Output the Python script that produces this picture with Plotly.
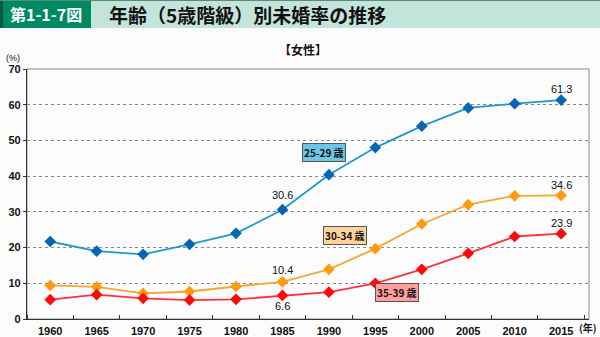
import plotly.graph_objects as go

years = [1960, 1965, 1970, 1975, 1980, 1985, 1990, 1995, 2000, 2005, 2010, 2015]
s25_29 = [21.7, 19.0, 18.1, 20.9, 24.0, 30.6, 40.4, 48.0, 54.0, 59.1, 60.3, 61.3]
s30_34 = [9.4, 9.0, 7.2, 7.7, 9.1, 10.4, 13.9, 19.7, 26.6, 32.0, 34.5, 34.6]
s35_39 = [5.4, 6.8, 5.8, 5.3, 5.5, 6.6, 7.5, 10.0, 13.9, 18.4, 23.1, 23.9]
series_names = ["25-29 歳", "30-34 歳", "35-39 歳"]
y_ticks = [0, 10, 20, 30, 40, 50, 60, 70]

FONT = "Liberation Sans, Noto Sans CJK JP, sans-serif"
JP = "Noto Sans CJK JP, sans-serif"

fig = go.Figure()
styles = [
    (s25_29, "#1b9ad2", "#0866b0"),
    (s30_34, "#f7a52e", "#ff9a10"),
    (s35_39, "#ff3040", "#ff0a0a"),
]
for (vals, lc, mc), name in zip(styles, series_names):
    fig.add_trace(go.Scatter(
        x=years, y=vals, mode="lines+markers", name=name,
        line=dict(color=lc, width=1.8),
        marker=dict(symbol="diamond", size=9, color=mc),
        showlegend=False, cliponaxis=False,
    ))

W, H = 600, 337
L, R, T, B = 27, 11, 69, 18
pw, ph = W - L - R, H - T - B

def px(x):
    return (x - L) / pw

def py(y):
    return (H - B - y) / ph

shapes = []
# title bar
shapes.append(dict(type="rect", xref="paper", yref="paper", x0=px(0), x1=px(600), y0=py(28), y1=py(0),
                   fillcolor="#c2e4da", line=dict(width=0), layer="below"))
shapes.append(dict(type="rect", xref="paper", yref="paper", x0=px(0), x1=px(91), y0=py(28), y1=py(0),
                   fillcolor="#008a62", line=dict(width=0), layer="below"))
shapes.append(dict(type="rect", xref="paper", yref="paper", x0=px(0), x1=px(3), y0=py(28), y1=py(0),
                   fillcolor="#0a5a3c", line=dict(width=0), layer="below"))
shapes.append(dict(type="line", xref="paper", yref="paper", x0=px(0), x1=px(600), y0=py(0.5), y1=py(0.5),
                   line=dict(color="#5a8a7a", width=1)))
# plot border (top/right grey)
shapes.append(dict(type="rect", xref="paper", yref="paper", x0=0, x1=1, y0=0, y1=1,
                   line=dict(color="#8a8a8a", width=1), layer="below"))

annotations = [
    dict(xref="paper", yref="paper", x=px(46), y=py(14), text="<b>第1-1-7図</b>", showarrow=False,
         font=dict(family=JP, size=16, color="white"), xanchor="center", yanchor="middle"),
    dict(xref="paper", yref="paper", x=px(107), y=py(14), text="<b>年齢（5歳階級）別未婚率の推移</b>", showarrow=False,
         font=dict(family=JP, size=19, color="#111"), xanchor="left", yanchor="middle"),
    dict(xref="paper", yref="paper", x=px(303), y=py(50), text="<b>【女性】</b>", showarrow=False,
         font=dict(family=JP, size=12, color="#111"), xanchor="center", yanchor="middle"),
    dict(xref="paper", yref="paper", x=px(13), y=py(58), text="(%)", showarrow=False,
         font=dict(family=FONT, size=9, color="#111"), xanchor="center", yanchor="middle"),
    dict(xref="paper", yref="paper", x=px(599), y=py(327), text="<b>(年)</b>", showarrow=False,
         font=dict(family=JP, size=10, color="#111"), xanchor="right", yanchor="middle"),
]

# value labels
def vlabel(series, idx, shift):
    annotations.append(dict(x=years[idx], y=series[idx], text=f"{series[idx]:.1f}", showarrow=False,
                            yshift=shift, font=dict(family=FONT, size=11, color="#111")))

vlabel(s25_29, 11, 11)
vlabel(s30_34, 11, 10)
vlabel(s35_39, 11, 11)
vlabel(s25_29, 5, 15)
vlabel(s30_34, 5, 12)
vlabel(s35_39, 5, -11)

# series label boxes
boxes = [
    (1989.5, 46.5, "#6cc6e6", series_names[0]),
    (1991.7, 23.5, "#ffd29a", series_names[1]),
    (1997.3, 7.3, "#ff9e9e", series_names[2]),
]
for bx, by, bc, txt in boxes:
    annotations.append(dict(x=bx, y=by, text=f"<b>{txt}</b>", showarrow=False, bgcolor=bc,
                            bordercolor="#555", borderwidth=1, borderpad=1,
                            font=dict(family=JP, size=10, color="#111")))

fig.update_layout(
    width=W, height=H, margin=dict(l=L, r=R, t=T, b=B),
    paper_bgcolor="#fcfcfc", plot_bgcolor="#fcfcfc",
    shapes=shapes, annotations=annotations,
    xaxis=dict(range=[1957.5, 2018], tickvals=years, ticktext=[f"<b>{y}</b>" for y in years],
               automargin=False,
               showgrid=False, zeroline=False, showline=True, linecolor="#333", linewidth=1.2,
               ticks="", ticklabelstandoff=2, tickfont=dict(family=FONT, size=11, color="#111"),
               minor=dict(tickvals=[1957.5 + 5 * i for i in range(13)], ticks="inside", ticklen=4,
                          tickcolor="#333", showgrid=False)),
    yaxis=dict(range=[0, 70], tickvals=y_ticks, ticktext=[f"<b>{v}</b>" for v in y_ticks],
               automargin=False,
               showgrid=True, gridcolor="#888", griddash="dot", gridwidth=1,
               zeroline=False, showline=True, linecolor="#333", linewidth=1.2,
               ticks="outside", ticklen=3, tickcolor="#333",
               tickfont=dict(family=FONT, size=11, color="#111")),
)

fig.write_html("out.html")
